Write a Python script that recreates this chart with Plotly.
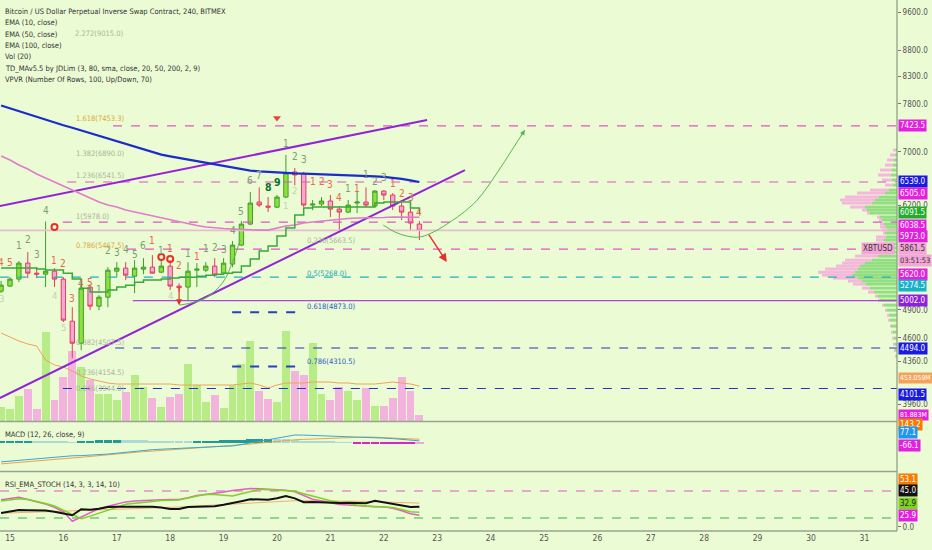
import math
import plotly.graph_objects as go

FONT = "DejaVu Sans Condensed, Liberation Sans Narrow, Roboto Condensed, Liberation Sans, sans-serif"

# ---------------- data ----------------
first_bar_day = 14 + 20 / 24          # first visible 4h bar: 14th, 20:00
bar_step_days = 4 / 24

opens  = [5110, 5169, 5251, 5444, 5322, 5310, 5346, 5251, 4775, 4543,
          5157, 4940, 5041, 5346, 5383, 5286, 5370, 5395, 5334, 5407,
          5169, 5157, 5358, 5358, 5407, 5322, 5432, 5670, 5946, 6250,
          6193, 6178, 6320, 6689, 6659, 6207, 6221, 6264, 6151, 6109,
          6235, 6250, 6193, 6406, 6349, 6193, 6109, 5946]
highs  = [5230, 5275, 5469, 5581, 5395, 5980, 5383, 5275, 4928, 5180,
          5192, 5064, 5395, 5456, 5456, 5481, 5506, 5543, 5481, 5481,
          5200, 5456, 5444, 5456, 5506, 5506, 5722, 5986, 6392, 6461,
          6320, 6349, 6951, 6750, 6689, 6278, 6320, 6349, 6193, 6278,
          6406, 6461, 6421, 6421, 6377, 6235, 6165, 5986]
lows   = [5090, 5157, 5216, 5263, 5263, 5157, 5157, 4765, 4392, 4472,
          4895, 4895, 4928, 5274, 5239, 5087, 5310, 5315, 5322, 5122,
          5100, 5007, 5157, 5334, 5274, 5322, 5395, 5657, 5933, 6178,
          6109, 6165, 6306, 6490, 6178, 6137, 6193, 6041, 5866, 6096,
          6096, 6178, 6178, 6278, 6137, 6000, 5866, 5735]
closes = [5180, 5251, 5444, 5322, 5310, 5346, 5251, 4786, 4543, 5145,
          4940, 5041, 5358, 5383, 5298, 5383, 5395, 5322, 5407, 5169,
          5150, 5346, 5370, 5407, 5298, 5444, 5670, 5946, 6235, 6207,
          6178, 6320, 6674, 6644, 6207, 6221, 6264, 6151, 6109, 6207,
          6250, 6207, 6406, 6349, 6193, 6109, 5960, 5861.5]

volume_m = [182, 156, 325, 416, 156, 1157, 273, 572, 910, 702,
            533, 351, 351, 273, 377, 598, 442, 299, 182, 312,
            351, 741, 468, 247, 338, 169, 468, 741, 1040, 390,
            286, 247, 1170, 650, 598, 1014, 351, 273, 442, 390,
            273, 429, 195, 195, 299, 572, 390, 81.883]
volume_ma_m = [1144, 1092, 1040, 1001, 975, 793, 728, 702, 650, 585,
               546, 520, 494, 481, 481, 481, 481, 481, 481, 481,
               468, 468, 468, 468, 468, 468, 468, 481, 494, 468,
               429, 468, 494, 494, 494, 507, 507, 507, 494, 494,
               481, 481, 481, 494, 507, 494, 481, 453.059]

ema100 = [7772, 7722, 7672, 7621, 7571, 7525, 7480, 7434, 7391, 7346,
          7301, 7256, 7212, 7168, 7125, 7083, 7040, 6997, 6956, 6928,
          6903, 6878, 6853, 6828, 6803, 6781, 6756, 6733, 6709, 6697,
          6688, 6682, 6673, 6668, 6664, 6660, 6655, 6651, 6646, 6642,
          6636, 6628, 6622, 6615, 6604, 6585, 6562, 6539]
ema50 = [6934, 6872, 6794, 6733, 6658, 6598, 6539, 6479, 6421, 6363,
         6306, 6250, 6207, 6179, 6138, 6110, 6083, 6055, 6028, 6001,
         5974, 5947, 5927, 5907, 5893, 5886, 5880, 5873, 5866, 5866,
         5866, 5893, 5920, 5933, 5960, 5974, 5987, 6001, 6014, 6021,
         6028, 6028, 6035, 6035, 6042, 6042, 6040, 6038.5]
td_ma = [5383, 5383, 5383, 5383, 5371, 5359, 5359, 5322, 5251, 5145,
         5099, 5099, 5122, 5157, 5180, 5215, 5239, 5239, 5251, 5263,
         5274, 5274, 5286, 5298, 5310, 5322, 5334, 5408, 5494, 5594,
         5658, 5788, 5893, 6069, 6165, 6179, 6179, 6179, 6179, 6179,
         6179, 6179, 6235, 6250, 6250, 6250, 6165, 6091.5]

macd_line = [-806, -773, -739, -706, -672, -638, -605, -571, -550, -542,
             -529, -517, -479, -441, -399, -361, -319, -294, -273, -252,
             -231, -210, -185, -172, -160, -151, -139, -71, 0, 67,
             139, 206, 277, 323, 319, 307, 294, 286, 273, 260,
             252, 239, 218, 193, 172, 151, 105, 77.1]
macd_signal = [-890, -861, -836, -806, -777, -748, -722, -689, -655, -617,
               -580, -542, -504, -466, -433, -395, -374, -353, -328, -302,
               -281, -256, -231, -206, -176, -147, -118, -88, -59, -17,
               25, 63, 101, 122, 139, 155, 172, 189, 202, 214,
               227, 239, 231, 218, 206, 185, 168, 143.2]
macd_hist = [70, 75, 80, 80, 75, 70, 45, 35, 25, 40,
             90, 110, 125, 125, 120, 110, 95, 60, 50, 40,
             35, 30, 40, 60, 80, 95, 110, 125, 150, 165,
             175, 170, 160, 100, 80, 60, 45, 30, 10, 5,
             -20, -30, -35, -40, -45, -60, -70, -66.1]

rsi = [31.1, 34.2, 37.6, 37.3, 36.7, 36.4, 33.8, 29.8, 26.0, 39.6,
       38.2, 40.7, 44.4, 45.1, 45.1, 45.1, 45.1, 45.1, 43.3, 40.0,
       40.0, 44.4, 45.1, 45.1, 46.0, 49.3, 52.7, 57.3, 61.6, 60.7,
       60.7, 64.0, 68.7, 63.6, 54.9, 55.3, 54.7, 53.1, 53.1, 54.0,
       53.3, 52.7, 58.2, 54.9, 51.1, 47.6, 44.7, 45.0]
rsi_ema = [30.7, 31.1, 31.8, 32.4, 33.1, 33.8, 34.4, 35.1, 35.8, 36.4,
           37.1, 37.8, 38.4, 39.1, 39.8, 40.4, 41.1, 41.8, 42.4, 43.3,
           44.4, 45.6, 46.7, 47.8, 48.9, 50.0, 51.1, 52.4, 53.8, 55.1,
           56.2, 57.6, 58.4, 58.4, 58.4, 58.4, 58.4, 58.4, 58.2, 57.8,
           57.3, 56.9, 56.0, 55.2, 54.6, 54.0, 53.5, 53.1]
stoch_k = [60.4, 63.1, 65.8, 61.3, 56.2, 51.1, 43.6, 33.8, 12.7, 21.6,
           31.3, 40.9, 46.2, 51.3, 55.8, 57.6, 59.1, 60.2, 60.7, 61.1,
           61.3, 64.9, 69.8, 72.4, 74.4, 77.6, 81.1, 84.0, 85.6, 84.9,
           83.6, 82.4, 81.6, 78.4, 70.0, 61.6, 57.6, 53.6, 50.0, 48.9,
           47.1, 45.3, 45.1, 45.1, 41.6, 36.2, 29.6, 25.9]
stoch_d = [57.8, 59.6, 62.7, 61.1, 56.9, 52.2, 46.7, 36.7, 26.7, 18.2,
           24.2, 30.2, 36.9, 43.6, 50.4, 53.1, 54.9, 56.9, 58.7, 59.3,
           60.0, 64.2, 68.7, 72.9, 72.0, 70.4, 68.9, 73.8, 78.7, 83.6,
           82.9, 82.0, 81.1, 79.3, 73.8, 68.4, 63.1, 58.4, 54.9, 51.3,
           48.9, 46.9, 46.0, 45.6, 43.3, 38.7, 34.0, 32.9]
rsi_levels = [80, 20]

# volume profile (visible range): row price, total volume, up volume
vp_price = [7029, 6950, 6872, 6794, 6718, 6643, 6568, 6494, 6421, 6378,
            6320, 6278, 6235, 6179, 6138, 6096, 6041, 6001, 5947, 5907,
            5866, 5827, 5775, 5735, 5684, 5633, 5582, 5531, 5481, 5444,
            5408, 5371, 5334, 5298, 5263, 5228, 5192, 5145, 5099, 5053,
            5007, 4951, 4895, 4840, 4786, 4722, 4658, 4595, 4533, 4472, 4412]
vp_total = [4, 7, 10, 12, 17, 19, 15, 12, 27, 40,
            52, 57, 55, 47, 35, 30, 20, 18, 17, 17,
            15, 14, 21, 21, 19, 17, 27, 42, 52, 55,
            61, 72, 79, 75, 64, 49, 44, 35, 29, 22,
            19, 15, 12, 10, 9, 7, 6, 5, 4, 3, 2]
vp_up = [1, 2, 3, 4, 5, 6, 5, 4, 8, 12,
         18, 22, 25, 32, 30, 27, 17, 15, 13, 11,
         9, 12, 11, 13, 12, 9, 11, 19, 25, 32,
         37, 39, 42, 45, 39, 35, 31, 27, 23, 19,
         17, 13, 10, 8, 7, 6, 4, 3, 2, 2, 1]

day_ticks = list(range(15, 32))
price_ticks = [9600, 8800, 8300, 7800, 7000, 6200, 4900, 4600, 4360, 3960]

# horizontal levels drawn on the chart
level_prices = [7423.5, 6539.0, 5973.0, 5620.0, 5274.5, 5002.0, 4494.0, 4101.5]
level_start_days = [16.93, 16.07, 15.99, 17.19, 14.81, 17.30, 16.97, 15.99]
last_price = 5861.5
fib_short_prices = [4873.0, 4310.5]
fib_short_days = [19.16, 20.49]

upper_trend_days = [14.81, 22.81]
upper_trend_prices = [6193, 7522]
lower_trend_days = [14.81, 23.52]
lower_trend_prices = [4014, 6718]

arc1_days = [18.17, 18.46, 18.69, 18.99, 19.18, 19.31]
arc1_prices = [4951, 4985, 5041, 5215, 5481, 5735]
arc2_days = [21.99, 22.21, 22.43, 22.68, 23.0, 23.24, 23.43, 23.75, 24.12, 24.40, 24.64]
arc2_prices = [5933, 5840, 5788, 5775, 5866, 5974, 6069, 6278, 6673, 7029, 7354]

fib_labels = [("2.272(9015.0)", 16.18, 9155), ("1.618(7453.3)", 16.20, 7556),
              ("1.382(6890.0)", 16.20, 6981), ("1.236(6541.5)", 16.20, 6643),
              ("1(5978.0)", 16.20, 6055), ("0.786(5467.5)", 16.20, 5671),
              ("0.236(5663.5)", 20.52, 5735), ("0.5(5268.0)", 20.52, 5322),
              ("0.618(4873.0)", 20.52, 4940), ("0.786(4310.5)", 20.52, 4362),
              ("0.382(4507.5)", 16.20, 4553), ("0.236(4154.5)", 16.20, 4255),
              ("0.146(3944.0)", 16.20, 4105)]
fib_label_kind = ["f", "o", "f", "f", "f", "o", "f", "t", "b", "b", "f", "f", "f"]

# TD sequential counts: (bar index, price, text, kind)
td_labels = [(0, 5457, '4', 'o'), (1, 5457, '5', 'o'), (2, 5671, '1', 'g'), (3, 5748, '2', 'g'),
             (4, 5557, '3', 'g'), (5, 6138, '4', 'g'), (6, 5481, '1', 'o'), (7, 5444, '2', 'o'),
             (8, 5030, '3', 'o'), (9, 5204, '4', 'o'), (10, 5216, '5', 'o'), (11, 5134, '1', 'g'),
             (12, 5607, '2', 'g'), (13, 5582, '3', 'g'), (14, 5620, '4', 'g'), (15, 5557, '5', 'g'),
             (16, 5671, '6', 'g'), (17, 5735, '1', 'o'), (18, 5607, '1', 'g'), (19, 5633, '1', 'o'),
             (20, 5420, '2', 'o'), (21, 5570, '1', 'g'), (22, 5532, '1', 'o'), (23, 5633, '1', 'g'),
             (24, 5645, '2', 'g'), (25, 5620, '3', 'g'), (26, 5866, '4', 'g'), (27, 6124, '5', 'g'),
             (28, 6568, '6', 'g'), (29, 6643, '7', 'g'), (30, 6465, '8', 'd'), (31, 6538, '9', 'd'),
             (32, 7141, '1', 'g'), (33, 6934, '2', 'g'), (34, 6887, '3', 'g'), (35, 6553, '1', 'o'),
             (36, 6553, '2', 'o'), (37, 6509, '3', 'o'), (38, 6321, '4', 'o'), (39, 6450, '1', 'g'),
             (40, 6450, '1', 'o'), (41, 6658, '1', 'g'), (42, 6553, '2', 'g'), (43, 6613, '3', 'g'),
             (44, 6523, '1', 'o'), (45, 6378, '2', 'o'), (46, 6321, '3', 'o'), (47, 6110, '4', 'o'),
             (0, 5030, '3', 'f'), (6, 5064, '4', 'f'), (7, 4711, '5', 'f'), (19, 5064, '4', 'f'),
             (32, 6207, '1', 'f'), (33, 6421, '2', 'f')]
td_flag_bars = [6, 18, 19]
td_flag_prices = [5907, 5519, 5494]
td_sell_bar = 31
td_sell_price = 7556

price_tags = [7423.5, 6539.0, 6505.0, 6091.5, 6038.5, 5973.0, 5861.5, 5620.0, 5274.5, 5002.0, 4494.0, 4101.5]
price_tag_shift = [0, 0, -9, 1, -8, -14, -18, -25, -8, 0, 0, -6]
price_tag_bg = ['#e41fe0', '#1a1ae0', '#e41fe0', '#22ad2c', '#e41fe0', '#e41fe0', '#f3a6d7',
                '#e41fe0', '#16b2c8', '#8e22dc', '#1a1ae0', '#1a1ae0']

# ---------------- geometry / styles ----------------
W, H = 932, 550
ML, MR, MT, MB = 0, 35, 0, 19
PW, PH = W - ML - MR, H - MT - MB
X_MIN, X_MAX = 14.813, 31.61
PRICE_LO, PRICE_HI = 3811, 9864
VOL_TOP = 13 * 421
BG = '#ebfbd3'
UP_FILL, UP_LINE = '#8ee03c', '#3f9f2b'
DN_FILL, DN_LINE = '#f5a8d8', '#e23f5c'


def pdom(top_px, bot_px):
    return [1 - bot_px / PH, 1 - top_px / PH]


def py(px):
    return 1 - px / PH


n = len(closes)
bar_days = [first_bar_day + i * bar_step_days for i in range(n)]
up = [c >= o for o, c in zip(opens, closes)]

fig = go.Figure()

# volume (base axis, drawn behind price)
fig.add_trace(go.Bar(x=bar_days, y=volume_m, width=bar_step_days * 0.88,
                     marker=dict(color=['#b8ec86' if u else '#f2b4dc' for u in up], line=dict(width=0)),
                     xaxis='x', yaxis='y', hoverinfo='skip'))
fig.add_trace(go.Scatter(x=bar_days, y=volume_ma_m, mode='lines', line=dict(color='#f0a25a', width=1),
                         xaxis='x', yaxis='y', hoverinfo='skip'))

# volume profile
k = (X_MAX - X_MIN) / PW
gx, gy, px_, pyy = [], [], [], []
for p, t, u in zip(vp_price, vp_total, vp_up):
    gx += [X_MAX, X_MAX - u * k, None]
    gy += [p, p, None]
    px_ += [X_MAX - u * k, X_MAX - t * k, None]
    pyy += [p, p, None]
fig.add_trace(go.Scatter(x=px_, y=pyy, mode='lines', line=dict(color='#f4b8da', width=3),
                         xaxis='x', yaxis='y5', hoverinfo='skip'))
fig.add_trace(go.Scatter(x=gx, y=gy, mode='lines', line=dict(color='#94de82', width=3),
                         xaxis='x', yaxis='y5', hoverinfo='skip'))

# horizontal levels
level_styles = [('#e055c8', 'dash', 1.2), ('#e055c8', 'dash', 1.2), ('#e055c8', 'dash', 1.2),
                ('#e055c8', 'dash', 1.2), ('#25b0c0', 'dash', 1.2), ('#a64ad6', 'solid', 1.2),
                ('#2434c4', 'dash', 1.2), ('#2434c4', 'dash', 1.2)]
for p, s, (c, d, w) in zip(level_prices, level_start_days, level_styles):
    fig.add_trace(go.Scatter(x=[s, X_MAX], y=[p, p], mode='lines', line=dict(color=c, dash=d, width=w),
                             xaxis='x', yaxis='y5', hoverinfo='skip'))
fig.add_trace(go.Scatter(x=[X_MIN, X_MAX], y=[last_price, last_price], mode='lines',
                         line=dict(color='#e9bdd0', width=1.6), xaxis='x', yaxis='y5', hoverinfo='skip'))
for p in fib_short_prices:
    fig.add_trace(go.Scatter(x=fib_short_days, y=[p, p], mode='lines',
                             line=dict(color='#2440c8', dash='dash', width=2), xaxis='x', yaxis='y5',
                             hoverinfo='skip'))

# trendlines and drawings
for dx, dy in ((upper_trend_days, upper_trend_prices), (lower_trend_days, lower_trend_prices)):
    fig.add_trace(go.Scatter(x=dx, y=dy, mode='lines', line=dict(color='#9224d8', width=2),
                             xaxis='x', yaxis='y5', hoverinfo='skip'))
for dx, dy in ((arc1_days, arc1_prices), (arc2_days, arc2_prices)):
    fig.add_trace(go.Scatter(x=dx, y=dy, mode='lines', line=dict(color='#55b84e', width=1, shape='spline'),
                             xaxis='x', yaxis='y5', hoverinfo='skip'))

# moving averages
fig.add_trace(go.Scatter(x=bar_days, y=ema50, mode='lines', line=dict(color='#e07ccb', width=1.6),
                         xaxis='x', yaxis='y5', hoverinfo='skip'))
fig.add_trace(go.Scatter(x=bar_days, y=ema100, mode='lines', line=dict(color='#1c2bcc', width=2.2),
                         xaxis='x', yaxis='y5', hoverinfo='skip'))
fig.add_trace(go.Scatter(x=bar_days, y=td_ma, mode='lines', line=dict(color='#3aa83a', width=1.5, shape='hv'),
                         xaxis='x', yaxis='y5', hoverinfo='skip'))

# candles
fig.add_trace(go.Candlestick(x=bar_days, open=opens, high=highs, low=lows, close=closes,
                             increasing=dict(fillcolor=UP_FILL, line=dict(color=UP_LINE, width=1)),
                             decreasing=dict(fillcolor=DN_FILL, line=dict(color=DN_LINE, width=1)),
                             whiskerwidth=0, xaxis='x', yaxis='y5', hoverinfo='skip'))

# TD markers
fig.add_trace(go.Scatter(x=[bar_days[i] for i in td_flag_bars], y=td_flag_prices, mode='markers',
                         marker=dict(symbol='circle-open', size=6, color='#e8302a', line=dict(width=2)),
                         xaxis='x', yaxis='y5', hoverinfo='skip'))
fig.add_trace(go.Scatter(x=[bar_days[td_sell_bar]], y=[td_sell_price], mode='markers',
                         marker=dict(symbol='triangle-down', size=7, color='#e8453c'),
                         xaxis='x', yaxis='y5', hoverinfo='skip'))

# MACD pane
hist_colors = []
for i, h in enumerate(macd_hist):
    prev = macd_hist[i - 1] if i else h
    if h >= 0:
        hist_colors.append('#1f9c98' if h >= prev else '#a9dcd6')
    else:
        hist_colors.append('#e020c8' if h <= prev else '#f2a6dc')
fig.add_trace(go.Bar(x=bar_days, y=macd_hist, width=bar_step_days * 0.95,
                     marker=dict(color=hist_colors, line=dict(width=0)), xaxis='x2', yaxis='y2', hoverinfo='skip'))
fig.add_trace(go.Scatter(x=bar_days, y=macd_signal, mode='lines', line=dict(color='#f5a040', width=1),
                         xaxis='x2', yaxis='y2', hoverinfo='skip'))
fig.add_trace(go.Scatter(x=bar_days, y=macd_line, mode='lines', line=dict(color='#35a8d8', width=1),
                         xaxis='x2', yaxis='y2', hoverinfo='skip'))

# RSI pane
for lv, c in zip(rsi_levels, ['#e05ac4', '#3cb043']):
    fig.add_trace(go.Scatter(x=[X_MIN, X_MAX], y=[lv, lv], mode='lines', line=dict(color=c, dash='dash', width=1),
                             xaxis='x3', yaxis='y3', hoverinfo='skip'))
fig.add_trace(go.Scatter(x=bar_days, y=rsi_ema, mode='lines', line=dict(color='#f0b070', width=1),
                         xaxis='x3', yaxis='y3', hoverinfo='skip'))
fig.add_trace(go.Scatter(x=bar_days, y=stoch_k, mode='lines', line=dict(color='#e060c8', width=1.5),
                         xaxis='x3', yaxis='y3', hoverinfo='skip'))
fig.add_trace(go.Scatter(x=bar_days, y=stoch_d, mode='lines', line=dict(color='#7ed321', width=1.5),
                         xaxis='x3', yaxis='y3', hoverinfo='skip'))
fig.add_trace(go.Scatter(x=bar_days, y=rsi, mode='lines', line=dict(color='#111111', width=2),
                         xaxis='x3', yaxis='y3', hoverinfo='skip'))

# ---------------- annotations ----------------
ann = []
td_style = {'g': ('#7b9e74', 10), 'o': ('#e56b4c', 10), 'd': ('#0b6e2a', 10.5), 'f': ('#c3d1b4', 9.5)}
for bi, p, t, kind in td_labels:
    c, s = td_style[kind]
    txt = '<b>%s</b>' % t if kind == 'd' else t
    ann.append(dict(x=bar_days[bi], y=math.log10(p), xref='x', yref='y5', text=txt, showarrow=False,
                    font=dict(family=FONT, size=s, color=c)))

fib_colors = {'f': '#a9b79a', 'o': '#e0a83a', 't': '#1fa6b4', 'b': '#2a5cc8'}
for (t, d, p), kind in zip(fib_labels, fib_label_kind):
    ann.append(dict(x=d, y=math.log10(p), xref='x', yref='y5', text=t, showarrow=False, xanchor='left',
                    font=dict(family=FONT, size=7.5, color=fib_colors[kind])))

# drawn arrows
ann.append(dict(x=23.18, y=math.log10(5457), xref='x', yref='y5', text='', showarrow=True, ax=-19, ay=-29,
                arrowhead=2, arrowsize=1.2, arrowwidth=1.4, arrowcolor='#e5302a'))
ann.append(dict(x=bar_days[20], y=math.log10(4951), xref='x', yref='y5', text='', showarrow=True, ax=0, ay=-20,
                arrowhead=2, arrowsize=1, arrowwidth=1.2, arrowcolor='#e5302a'))
ann.append(dict(x=arc2_days[-1], y=math.log10(arc2_prices[-1]), xref='x', yref='y5', text='', showarrow=True,
                ax=-5, ay=8, arrowhead=2, arrowsize=1, arrowwidth=1, arrowcolor='#55b84e'))

# legend texts
legend_lines = ["Bitcoin / US Dollar Perpetual Inverse Swap Contract, 240, BITMEX", "EMA (10, close)",
                "EMA (50, close)", "EMA (100, close)", "Vol (20)",
                "TD_MAv5.5 by JDLim (3, 80, sma, close, 20, 50, 200, 2, 9)",
                "VPVR (Number Of Rows, 100, Up/Down, 70)"]
LEG_SIZE = 7.5
for j, t in enumerate(legend_lines):
    ann.append(dict(x=0, xref='paper', xshift=3, y=py(11.5 + j * 11.3), yref='paper', text=t, showarrow=False,
                    xanchor='left', yanchor='middle', font=dict(family=FONT, size=LEG_SIZE, color='#333333')))
ann.append(dict(x=0, xref='paper', xshift=3, y=py(434), yref='paper', text="MACD (12, 26, close, 9)",
                showarrow=False, xanchor='left', yanchor='middle', font=dict(family=FONT, size=LEG_SIZE, color='#333333')))
ann.append(dict(x=0, xref='paper', xshift=3, y=py(484), yref='paper', text="RSI_EMA_STOCH (14, 3, 3, 14, 10)",
                showarrow=False, xanchor='left', yanchor='middle', font=dict(family=FONT, size=LEG_SIZE, color='#333333')))


def tag(text, y, yref, bg, fg='white', yshift=0, xanchor='left', xshift=1, size=8):
    ann.append(dict(x=1, xref='paper', y=y, yref=yref, text=text, showarrow=False, xanchor=xanchor,
                    yanchor='middle', xshift=xshift, yshift=yshift, bgcolor=bg, borderpad=1,
                    font=dict(family=FONT, size=size, color=fg)))


for v, s, bg in zip(price_tags, price_tag_shift, price_tag_bg):
    fg = '#333333' if v == last_price else 'white'
    tag('%.1f' % v, math.log10(v), 'y5', bg, fg=fg, yshift=s)
tag('XBTUSD', math.log10(last_price), 'y5', '#f3a6d7', fg='#333333', yshift=-18, xanchor='right', xshift=-2)
tag('03:51:53', math.log10(last_price), 'y5', '#f3a6d7', fg='#333333', yshift=-30, size=7.5)
tag('%.3fM' % volume_ma_m[-1], volume_ma_m[-1], 'y', '#f5a35c', yshift=8, size=6.8)
tag('%.3fM' % volume_m[-1], volume_m[-1], 'y', '#e41fe0', yshift=0, size=6.8)
tag('%.1f' % macd_signal[-1], macd_signal[-1], 'y2', '#f57c00', yshift=15)
tag('%.1f' % macd_line[-1], macd_line[-1], 'y2', '#2196f3', yshift=8)
tag('%.1f' % macd_hist[-1], macd_hist[-1], 'y2', '#e41fe0', yshift=-1)
tag('%.1f' % rsi_ema[-1], rsi_ema[-1], 'y3', '#f57c00', yshift=24)
tag('%.1f' % rsi[-1], rsi[-1], 'y3', '#111111', yshift=16)
tag('%.1f' % stoch_d[-1], stoch_d[-1], 'y3', '#7ed321', fg='#222222', yshift=9)
tag('%.1f' % stoch_k[-1], stoch_k[-1], 'y3', '#e41fe0', yshift=0)

# ---------------- layout ----------------
axis_common = dict(showgrid=False, zeroline=False, fixedrange=True)
main_dom = pdom(0, 421)
macd_dom = pdom(422, 471)
rsi_dom = pdom(472, PH)
tick_font = dict(family=FONT, size=8, color='#555555')
x_tick_font = dict(family=FONT, size=8.5, color='#555555')

fig.update_layout(
    width=W, height=H, margin=dict(l=ML, r=MR, t=MT, b=MB),
    paper_bgcolor=BG, plot_bgcolor=BG, showlegend=False, bargap=0,
    xaxis=dict(domain=[0, 1], range=[X_MIN, X_MAX], anchor='y', showticklabels=False,
               rangeslider=dict(visible=False), **axis_common),
    yaxis=dict(domain=main_dom, range=[0, VOL_TOP], visible=False, **axis_common),
    yaxis5=dict(overlaying='y', anchor='x', side='right', type='log',
                range=[math.log10(PRICE_LO), math.log10(PRICE_HI)],
                tickvals=price_ticks, ticktext=['%.1f' % v for v in price_ticks],
                ticks='outside', ticklen=3, tickcolor='#777777', tickfont=tick_font, **axis_common),
    xaxis2=dict(domain=[0, 1], range=[X_MIN, X_MAX], anchor='y2', matches='x', showticklabels=False,
                **axis_common),
    yaxis2=dict(domain=macd_dom, range=[-1189, 869], side='right', showticklabels=False, **axis_common),
    xaxis3=dict(domain=[0, 1], range=[X_MIN, X_MAX], anchor='y3', matches='x',
                tickvals=day_ticks, ticktext=[str(d) for d in day_ticks], ticks='', tickfont=x_tick_font,
                **axis_common),
    yaxis3=dict(domain=rsi_dom, range=[-8.9, 122.2], side='right', tickvals=[0], ticktext=['0.0'],
                ticks='outside', ticklen=3, tickcolor='#777777', tickfont=tick_font, **axis_common),
    annotations=ann,
    shapes=[
        dict(type='line', xref='paper', yref='paper', x0=0, x1=1, y0=py(421.5), y1=py(421.5),
             line=dict(color='#9aa390', width=1.5)),
        dict(type='line', xref='paper', yref='paper', x0=0, x1=1, y0=py(471.5), y1=py(471.5),
             line=dict(color='#9aa390', width=1.5)),
        dict(type='line', xref='paper', yref='paper', x0=0, x1=1, y0=0, y1=0,
             line=dict(color='#9aa390', width=1.5)),
        dict(type='line', xref='paper', yref='paper', x0=1, x1=1, y0=0, y1=1,
             line=dict(color='#8d9a82', width=1.2)),
    ],
)

fig.write_html("out.html", config={'displayModeBar': False},
               post_script="document.body.style.margin='0';document.body.style.overflow='hidden';")
